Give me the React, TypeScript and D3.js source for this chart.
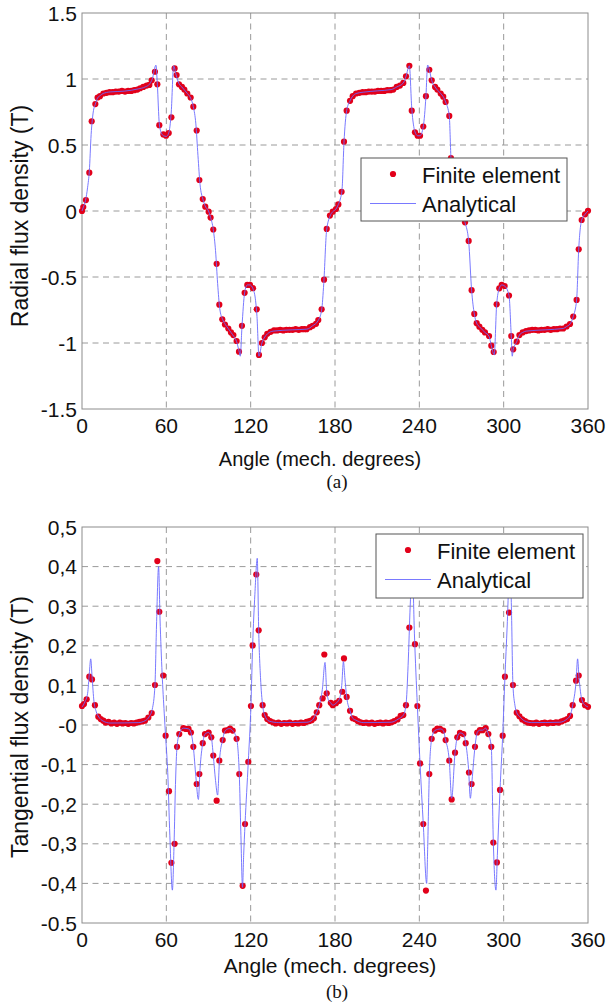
import React from "react";
import * as d3 from "d3";

const xTicks = [0, 60, 120, 180, 240, 300, 360];
const xTickLabels = ["0", "60", "120", "180", "240", "300", "360"];

const radialTicks = [1.5, 1, 0.5, 0, -0.5, -1, -1.5];
const radialTickLabels = ["1.5", "1", "0.5", "0", "-0.5", "-1", "-1.5"];

const tangTicks = [0.5, 0.4, 0.3, 0.2, 0.1, 0, -0.1, -0.2, -0.3, -0.4, -0.5];
const tangTickLabels = ["0,5", "0,4", "0,3", "0,2", "0,1", "-0", "-0,1", "-0,2", "-0,3", "-0,4", "-0.5"];

const legendLabels = ["Finite element", "Analytical"];

// Radial flux density, finite element points [angle, T]
const radialFE: [number, number][] = [
  [0, 0.0], [0.9, 0.03], [2.8, 0.083], [5.2, 0.29], [6.9, 0.68], [9.5, 0.81], [11.1, 0.86], [12.8, 0.87],
  [15.2, 0.89], [17.4, 0.895], [19.6, 0.9], [21.8, 0.9], [24, 0.905], [26.2, 0.905], [28.4, 0.91], [30.6, 0.905],
  [32.8, 0.91], [35, 0.91], [37.2, 0.915], [39.4, 0.92], [41.4, 0.93], [43.6, 0.94], [46, 0.95], [47.9, 0.955],
  [49.6, 0.99], [51.9, 1.055], [53.6, 0.96], [55, 0.65], [57.9, 0.58], [59.8, 0.57], [61.7, 0.59], [63.6, 0.71],
  [65.9, 1.08], [67.3, 1.03], [69, 0.96], [71.1, 0.94], [72.8, 0.92], [74.9, 0.89], [77.3, 0.86], [79.2, 0.79],
  [81.6, 0.61], [83.5, 0.235], [85.9, 0.09], [87.7, 0.033], [90.1, -0.005], [91.5, -0.05], [93.4, -0.14],
  [95.8, -0.4], [97.7, -0.71], [99.8, -0.82], [101.7, -0.86], [104.1, -0.89], [106, -0.92], [107.7, -0.94],
  [110, -0.985], [111.7, -1.066], [113.8, -0.87], [115.7, -0.62], [117.6, -0.56], [119.5, -0.56], [121.7, -0.585],
  [124.3, -0.745], [125.9, -1.09], [128, -1.0], [130, -0.957], [131.8, -0.93], [134.2, -0.915], [136.6, -0.905],
  [138.8, -0.905], [141, -0.9], [143.2, -0.905], [145.4, -0.9], [147.6, -0.9], [149.8, -0.9], [152, -0.895],
  [154.2, -0.9], [156.4, -0.895], [158.2, -0.895], [159.8, -0.896], [162.2, -0.88], [164.1, -0.87], [166.5, -0.855],
  [168.1, -0.826], [170.5, -0.745], [172.2, -0.52], [174.1, -0.136], [176.4, -0.035], [178.4, -0.005], [180.7, 0.015],
  [182.4, 0.05], [184.7, 0.146], [186.4, 0.525], [188.3, 0.76], [190.7, 0.835], [192.6, 0.87], [195, 0.89],
  [197.3, 0.895], [199.6, 0.9], [201.8, 0.9], [204, 0.905], [206.2, 0.905], [208.4, 0.905], [210.6, 0.91],
  [212.8, 0.91], [215, 0.91], [217.2, 0.915], [219.4, 0.915], [221.5, 0.92], [223.9, 0.94], [226.2, 0.95],
  [228.6, 0.97], [230.5, 1.02], [232.9, 1.1], [234.6, 0.76], [236.9, 0.596], [238.8, 0.57], [240.5, 0.57],
  [242.8, 0.64], [244.7, 0.87], [247.1, 1.07], [248.8, 0.99], [251.2, 0.94], [252.8, 0.92], [255.2, 0.89],
  [257, 0.866], [258.7, 0.826], [261.3, 0.72], [262.5, 0.4], [264.5, 0.19], [266.6, 0.07], [268.6, 0.02],
  [270.5, -0.01], [272.5, -0.086], [275.1, -0.227], [277.2, -0.6], [279.1, -0.78], [280.8, -0.85], [282.7, -0.876],
  [284.8, -0.9], [286.7, -0.92], [289.6, -0.947], [291.2, -1.02], [292.9, -1.068], [295, -0.707], [296.9, -0.586],
  [298.6, -0.56], [300.7, -0.568], [303.8, -0.64], [305.4, -0.947], [306.8, -1.048], [309.3, -0.99], [311.2, -0.94],
  [313.5, -0.92], [315.9, -0.91], [318.1, -0.905], [320.3, -0.9], [322.5, -0.9], [324.7, -0.905], [326.9, -0.9],
  [329.1, -0.9], [331.3, -0.895], [333.5, -0.9], [335.7, -0.895], [337.9, -0.895], [340.1, -0.89], [342.4, -0.89],
  [344.8, -0.875], [347.2, -0.856], [349.5, -0.8], [351.9, -0.674], [353.4, -0.29], [355.5, -0.068], [357.9, -0.025],
  [360, 0.002],
];

// Radial flux density, analytical curve [angle, T]
const radialAnalytical: [number, number][] = [
  [0, 0], [1, 0.03], [2.5, 0.08], [4, 0.18], [5.2, 0.3], [6.5, 0.58], [8, 0.75], [9.5, 0.81], [11, 0.855],
  [13, 0.875], [15, 0.89], [20, 0.902], [30, 0.908], [40, 0.925], [45, 0.94], [48, 0.96], [50, 1.0], [52.6, 1.105],
  [53.6, 0.96], [55, 0.66], [56.5, 0.59], [58, 0.57], [60, 0.565], [61.7, 0.59], [63.5, 0.75], [65.2, 1.1],
  [67, 1.03], [69, 0.965], [71, 0.94], [73, 0.915], [75, 0.89], [77.3, 0.855], [79.2, 0.79], [81, 0.66],
  [82.5, 0.42], [84, 0.2], [86, 0.09], [88, 0.03], [90, 0.0], [91.5, -0.05], [93.4, -0.14], [95, -0.3],
  [96.5, -0.55], [98, -0.74], [100, -0.82], [102, -0.86], [104, -0.89], [106, -0.92], [108, -0.95], [110, -0.99],
  [111.7, -1.06], [112.6, -1.1], [113.8, -0.88], [115.7, -0.62], [117.6, -0.56], [119.5, -0.56], [121.7, -0.59],
  [123.5, -0.68], [124.5, -0.8], [125.9, -1.1], [128, -1.0], [130, -0.955], [132, -0.93], [136, -0.91], [150, -0.9],
  [160, -0.895], [164, -0.87], [168, -0.83], [170.5, -0.75], [172, -0.55], [174, -0.15], [176.4, -0.04],
  [178.4, -0.005], [180.7, 0.015], [182.4, 0.05], [184, 0.1], [185, 0.16], [186.4, 0.52], [188.3, 0.76],
  [190.7, 0.835], [192.6, 0.87], [195, 0.89], [200, 0.9], [210, 0.91], [220, 0.92], [224, 0.94], [228.6, 0.97],
  [230.5, 1.02], [232.9, 1.1], [234.6, 0.78], [236.9, 0.6], [238.8, 0.57], [240.5, 0.57], [242.8, 0.64],
  [244.7, 0.87], [245.9, 1.106], [247.1, 1.07], [248.8, 0.99], [251.2, 0.94], [255.2, 0.89], [257, 0.866],
  [258.7, 0.826], [261.3, 0.72], [262.5, 0.4], [264.5, 0.18], [266.5, 0.07], [268.5, 0.02], [270.5, -0.01],
  [272.5, -0.086], [275.1, -0.23], [277.2, -0.6], [279.1, -0.78], [280.8, -0.85], [282.7, -0.876], [284.8, -0.9],
  [286.7, -0.92], [289.6, -0.95], [291.2, -1.02], [293.3, -1.09], [295, -0.71], [296.9, -0.586], [298.6, -0.56],
  [300.7, -0.568], [303.8, -0.64], [305.4, -0.95], [306.1, -1.1], [306.8, -1.05], [309.3, -0.99], [311.2, -0.94],
  [313.5, -0.92], [316, -0.91], [330, -0.9], [342.4, -0.89], [344.8, -0.875], [347.2, -0.856], [349.5, -0.8],
  [351.9, -0.674], [353.4, -0.29], [355.5, -0.068], [357.9, -0.025], [360, 0],
];

// Tangential flux density, finite element points [angle, T]
const tangentialFE: [number, number][] = [
  [0, 0.048], [1.4, 0.053], [3.3, 0.065], [5.2, 0.122], [7.1, 0.115], [9.2, 0.05], [11.6, 0.021], [13.3, 0.015],
  [15.2, 0.011], [16.8, 0.006], [18.9, 0.008], [20.9, 0.004], [22.9, 0.006], [24.9, 0.003], [26.9, 0.006],
  [28.9, 0.004], [30.9, 0.005], [32.9, 0.003], [34.9, 0.005], [36.9, 0.004], [38.9, 0.006], [40.9, 0.008],
  [42.9, 0.009], [44.8, 0.011], [47.2, 0.019], [49.6, 0.03], [51.9, 0.101], [53.6, 0.414], [55, 0.286],
  [57.8, 0.125], [59.5, -0.027], [61.9, -0.167], [63.6, -0.348], [65.9, -0.3], [67.6, -0.055], [69.2, -0.023],
  [72.1, -0.008], [73.9, -0.01], [75.8, -0.01], [77.5, -0.019], [79.2, -0.055], [81.6, -0.149], [83.5, -0.124],
  [85.9, -0.046], [87.5, -0.023], [90.1, -0.019], [92, -0.031], [93.4, -0.077], [95.8, -0.191], [97.7, -0.09],
  [100.1, -0.038], [101.7, -0.014], [103.6, -0.013], [105.3, -0.009], [107.2, -0.014], [110, -0.035],
  [111.9, -0.124], [114.3, -0.406], [116, -0.25], [118.3, -0.093], [120.2, 0.048], [121.4, 0.201], [124, 0.38],
  [125.7, 0.239], [128.5, 0.05], [130, 0.025], [131.8, 0.015], [133.8, 0.01], [135.8, 0.007], [137.8, 0.004],
  [139.8, 0.006], [141.8, 0.003], [143.8, 0.005], [145.8, 0.004], [147.8, 0.006], [149.8, 0.003], [151.8, 0.005],
  [153.8, 0.004], [155.8, 0.006], [157.8, 0.005], [159.8, 0.008], [161.8, 0.01], [163.4, 0.012], [165, 0.017],
  [167, 0.032], [168.8, 0.05], [171.2, 0.067], [172.4, 0.178], [174.1, 0.08], [177, 0.056], [178.4, 0.05],
  [180.7, 0.055], [183, 0.061], [185.2, 0.084], [186.4, 0.168], [188.3, 0.071], [190.7, 0.036], [192.6, 0.017],
  [194.2, 0.015], [196.2, 0.01], [198.2, 0.007], [200.2, 0.005], [202.2, 0.006], [204.2, 0.004], [206.2, 0.006],
  [208.2, 0.003], [210.2, 0.005], [212.2, 0.006], [214.2, 0.004], [216.2, 0.006], [218.2, 0.005], [220.2, 0.007],
  [222.2, 0.01], [224.5, 0.014], [226.7, 0.023], [228.6, 0.025], [230.5, 0.05], [232.9, 0.246], [234.8, 0.38],
  [236.9, 0.204], [238.6, 0.048], [240.5, -0.097], [242.8, -0.25], [244.7, -0.418], [247.1, -0.124],
  [248.8, -0.035], [251.1, -0.014], [252.8, -0.009], [254.7, -0.01], [257, -0.014], [258.7, -0.038],
  [261.3, -0.09], [263, -0.188], [265.4, -0.07], [267, -0.031], [268.9, -0.02], [271.3, -0.023], [273, -0.046],
  [275.3, -0.12], [277.2, -0.149], [279.6, -0.055], [281.2, -0.019], [283.1, -0.013], [285, -0.013],
  [287.2, -0.008], [289.1, -0.023], [291.2, -0.055], [292.6, -0.297], [295.2, -0.347], [297.4, -0.164],
  [299.3, -0.027], [300.9, 0.122], [303.8, 0.284], [306.6, 0.101], [309.3, 0.031], [311.2, 0.022], [313.2, 0.014],
  [315.2, 0.01], [317.2, 0.006], [319.2, 0.005], [321.2, 0.004], [323.2, 0.006], [325.2, 0.003], [327.2, 0.005],
  [329.2, 0.006], [331.2, 0.004], [333.2, 0.006], [335.2, 0.005], [337.2, 0.007], [339.2, 0.006], [341.2, 0.009],
  [343.2, 0.012], [345.2, 0.015], [347.2, 0.023], [349.1, 0.05], [351.5, 0.112], [353.4, 0.125], [355.7, 0.063],
  [357.9, 0.05], [360, 0.046],
];

// Tangential flux density, analytical curve [angle, T]
const tangentialAnalytical: [number, number][] = [
  [0, 0.045], [2, 0.058], [4, 0.08], [5.2, 0.13], [6.2, 0.167], [7.2, 0.12], [8.5, 0.06], [10, 0.035], [12, 0.02],
  [15, 0.01], [20, 0.005], [40, 0.006], [45, 0.011], [48, 0.022], [50, 0.04], [51.9, 0.1], [53, 0.25], [54.5, 0.4],
  [55.5, 0.27], [57, 0.13], [58.5, 0.03], [59.5, -0.03], [61, -0.12], [62.5, -0.28], [64.3, -0.417], [65.5, -0.3],
  [66.5, -0.15], [67.6, -0.055], [69.2, -0.023], [72, -0.008], [76, -0.01], [77.5, -0.019], [79.2, -0.055],
  [81, -0.13], [82.8, -0.188], [84, -0.11], [85.9, -0.046], [87.5, -0.023], [90, -0.019], [92, -0.031],
  [93.4, -0.077], [95, -0.14], [96.5, -0.177], [97.8, -0.09], [100, -0.038], [102, -0.014], [105, -0.009],
  [107.2, -0.014], [110, -0.035], [111.9, -0.124], [113, -0.27], [114.2, -0.41], [115, -0.33], [116, -0.25],
  [118.3, -0.093], [120.2, 0.05], [121.4, 0.2], [123, 0.33], [124.7, 0.421], [125.7, 0.24], [127, 0.12],
  [128.5, 0.05], [130, 0.025], [133, 0.01], [140, 0.006], [160, 0.007], [164, 0.013], [166, 0.025], [168.8, 0.05],
  [171, 0.09], [172.9, 0.158], [174.1, 0.085], [175.5, 0.062], [177, 0.056], [178.4, 0.05], [180.7, 0.055],
  [183, 0.065], [184.8, 0.1], [186, 0.16], [187, 0.12], [188.3, 0.071], [190.7, 0.036], [192.6, 0.017],
  [195, 0.012], [200, 0.006], [220, 0.007], [225, 0.015], [228.6, 0.025], [230.5, 0.05], [232, 0.15],
  [233.5, 0.3], [235, 0.4], [236.5, 0.23], [238.6, 0.048], [240.5, -0.097], [242.8, -0.25], [245.2, -0.4],
  [246, -0.3], [247.1, -0.124], [248.8, -0.035], [251, -0.014], [255, -0.01], [257, -0.014], [258.7, -0.038],
  [261.3, -0.09], [263, -0.185], [265.4, -0.07], [267, -0.031], [269, -0.02], [271.3, -0.023], [273, -0.046],
  [275, -0.11], [276.3, -0.185], [277.5, -0.14], [279.6, -0.055], [281.2, -0.019], [283, -0.013], [285, -0.013],
  [287.2, -0.008], [289.1, -0.023], [291.2, -0.055], [292.6, -0.29], [294.5, -0.417], [295.5, -0.33],
  [297.4, -0.164], [299.3, -0.027], [300.9, 0.12], [302.5, 0.25], [304.5, 0.42], [305.5, 0.3], [306.6, 0.101],
  [308, 0.05], [309.3, 0.031], [311.2, 0.022], [315, 0.01], [320, 0.006], [340, 0.007], [345, 0.015],
  [347.2, 0.023], [349.1, 0.05], [351.5, 0.11], [352.6, 0.167], [353.6, 0.12], [355.7, 0.063], [357.9, 0.05],
  [360, 0.046],
];

const SANS = "'Liberation Sans', Arial, Helvetica, sans-serif";
const SERIF = "'Liberation Serif', 'Times New Roman', serif";
const RED = "#e2001a";
const BLUE = "#6a6aff";
const GRID = "#9a9a9a";
const FRAME = "#8c8c8c";

type PanelProps = {
  top: number;
  bottom: number;
  domain: [number, number];
  ticks: number[];
  tickLabels: string[];
  fe: [number, number][];
  analytical: [number, number][];
  ylabel: string;
  ylabelY: number;
  legend: { x: number; y: number; w: number; h: number };
  xlabelX: number;
  xlabelY: number;
  xlabelSize: number;
  caption: string;
  captionY: number;
};

const LEFT = 82;
const RIGHT = 588;

function Panel(p: PanelProps) {
  const x = d3.scaleLinear().domain([0, 360]).range([LEFT, RIGHT]);
  const y = d3.scaleLinear().domain(p.domain).range([p.bottom, p.top]);
  const line = d3
    .line<[number, number]>()
    .x((d) => x(d[0]))
    .y((d) => y(d[1]))
    .curve(d3.curveMonotoneX);
  const lg = p.legend;
  return (
    <g>
      <rect x={LEFT} y={p.top} width={RIGHT - LEFT} height={p.bottom - p.top} fill="#fff" />
      {xTicks.slice(1, -1).map((t) => (
        <line key={"vx" + t} x1={x(t)} x2={x(t)} y1={p.top} y2={p.bottom} stroke={GRID} strokeWidth={1} strokeDasharray="6,4.5" />
      ))}
      {p.ticks.slice(1, -1).map((t) => (
        <line key={"hy" + t} x1={LEFT} x2={RIGHT} y1={y(t)} y2={y(t)} stroke={GRID} strokeWidth={1} strokeDasharray="6,4.5" />
      ))}
      <rect x={LEFT} y={p.top} width={RIGHT - LEFT} height={p.bottom - p.top} fill="none" stroke={FRAME} strokeWidth={1} />
      {p.fe.map((d, i) => (
        <circle key={"p" + i} cx={x(d[0])} cy={y(d[1])} r={3.1} fill={RED} />
      ))}
      <path d={line(p.analytical) || ""} fill="none" stroke={BLUE} strokeWidth={0.9} />
      {p.ticks.map((t, i) => (
        <text key={"yl" + i} x={LEFT - 5} y={y(t)} dy="0.36em" textAnchor="end" fontSize={21} fontFamily={SANS} fill="#111">
          {p.tickLabels[i]}
        </text>
      ))}
      {xTicks.map((t, i) => (
        <text key={"xl" + i} x={x(t)} y={p.bottom + 24} textAnchor="middle" fontSize={21} fontFamily={SANS} fill="#111">
          {xTickLabels[i]}
        </text>
      ))}
      <text x={p.xlabelX} y={p.xlabelY} textAnchor="middle" fontSize={p.xlabelSize} fontFamily={SANS} fill="#111">
        Angle (mech. degrees)
      </text>
      <text transform={`translate(28,${p.ylabelY}) rotate(-90)`} textAnchor="middle" fontSize={23} fontFamily={SANS} fill="#111">
        {p.ylabel}
      </text>
      <text x={337} y={p.captionY} textAnchor="middle" fontSize={19} fontFamily={SERIF} fill="#111">
        {p.caption}
      </text>
      <g>
        <rect x={lg.x} y={lg.y} width={lg.w} height={lg.h} fill="#fff" stroke="#555" strokeWidth={1} />
        <circle cx={lg.x + 32} cy={lg.y + 16} r={3.1} fill={RED} />
        <text x={lg.x + 61} y={lg.y + 24.5} fontSize={22} fontFamily={SANS} fill="#111">
          {legendLabels[0]}
        </text>
        <line x1={lg.x + 9} x2={lg.x + 55} y1={lg.y + 45.5} y2={lg.y + 45.5} stroke={BLUE} strokeWidth={0.9} />
        <text x={lg.x + 61} y={lg.y + 54} fontSize={22} fontFamily={SANS} fill="#111">
          {legendLabels[1]}
        </text>
      </g>
    </g>
  );
}

export default function App() {
  return (
    <svg width={610} height={1005} style={{ position: "absolute", left: 0, top: 0, background: "#fff" }}>
      <rect x={0} y={0} width={610} height={1005} fill="#fff" />
      <Panel
        top={13}
        bottom={409}
        domain={[-1.5, 1.5]}
        ticks={radialTicks}
        tickLabels={radialTickLabels}
        fe={radialFE}
        analytical={radialAnalytical}
        ylabel="Radial flux density (T)"
        ylabelY={216}
        legend={{ x: 361, y: 158, w: 206, h: 63 }}
        xlabelX={320}
        xlabelY={466}
        xlabelSize={20}
        caption="(a)"
        captionY={488}
      />
      <Panel
        top={527}
        bottom={923}
        domain={[-0.5, 0.5]}
        ticks={tangTicks}
        tickLabels={tangTickLabels}
        fe={tangentialFE}
        analytical={tangentialAnalytical}
        ylabel="Tangential flux density (T)"
        ylabelY={727}
        legend={{ x: 376, y: 534, w: 207, h: 64 }}
        xlabelX={330}
        xlabelY={973}
        xlabelSize={21}
        caption="(b)"
        captionY={998}
      />
    </svg>
  );
}
